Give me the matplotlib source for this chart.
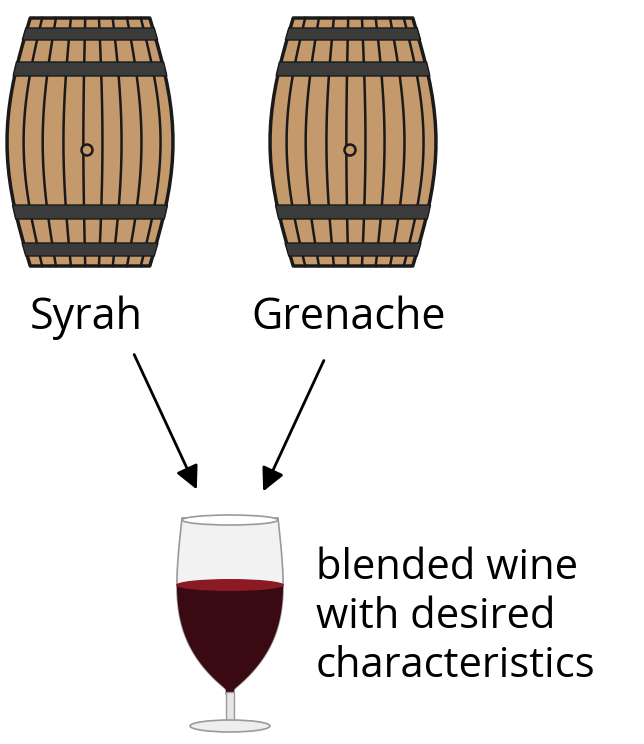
import numpy as np
import matplotlib.pyplot as plt
from matplotlib.patches import Polygon, Circle, Ellipse, FancyArrowPatch

barrel_names = ["Syrah", "Grenache"]
barrel_centers = [90, 353]
result_text = "blended wine\nwith desired\ncharacteristics"

W, H = 644, 744
fig = plt.figure(figsize=(W / 100, H / 100), dpi=100)
ax = fig.add_axes([0, 0, 1, 1])
ax.set_xlim(0, W)
ax.set_ylim(H, 0)
ax.axis("off")

top, bot = 18, 266
hw = 83


def half_width(y):
    t = (y - top) / (bot - top)
    return hw * (0.72 + 0.28 * np.sin(np.pi * t))


def band(cx, y0, y1, pad=0.0):
    ys = np.linspace(y0, y1, 20)
    left = [(cx - half_width(y) - pad, y) for y in ys]
    right = [(cx + half_width(y) + pad, y) for y in ys[::-1]]
    return left + right


for cx, name in zip(barrel_centers, barrel_names):
    ax.add_patch(Polygon(band(cx, top, bot), closed=True, fc="#C49A6C", ec="#1a1a1a", lw=2.5,
                         joinstyle="round", zorder=1))
    ys = np.linspace(top, bot, 50)
    for f in [-0.8, -0.57, -0.32, -0.08, 0.15, 0.38, 0.62, 0.85]:
        ax.plot(cx + f * half_width(ys), ys, color="#1a1a1a", lw=1.8, zorder=2)
    for y0, y1 in [(28, 40), (62, 76), (205, 219), (243, 256)]:
        ax.add_patch(Polygon(band(cx, y0, y1, 1.5), closed=True, fc="#3b3b3b", ec="#1a1a1a", lw=1, zorder=3))
    ax.add_patch(Circle((cx - 3, 150), 5.5, fc="#C49A6C", ec="#1a1a1a", lw=1.8, zorder=4))
    ax.text(cx - 4, 318, name, ha="center", va="center", fontsize=31, family="Open Sans", weight="medium")

for (x0, y0), (x1, y1) in [((133, 352), (198, 492)), ((325, 358), (262, 494))]:
    ax.add_patch(FancyArrowPatch((x0, y0), (x1, y1), arrowstyle="-|>,head_length=14,head_width=7",
                                 color="black", lw=2, mutation_scale=1))

# wine glass
ys = np.linspace(518, 694, 80)
t = (ys - 518) / (694 - 518)
gw = 48 + 8 * np.sin(np.pi * t * 0.75) - 56 * t ** 4
gw = np.maximum(gw, 4)
gc = 230
ax.add_patch(Polygon(list(zip(gc - gw, ys)) + list(zip(gc + gw[::-1], ys[::-1])), closed=True,
                     fc="#f2f2f2", ec="#9a9a9a", lw=1.2, zorder=1))
mask = ys >= 583
ax.add_patch(Polygon(list(zip(gc - gw[mask], ys[mask])) + list(zip(gc + gw[mask][::-1], ys[mask][::-1])),
                     closed=True, fc="#3a0a12", ec="none", zorder=2))
ax.add_patch(Ellipse((gc, 585), 2 * 54, 12, fc="#8b1a24", ec="none", zorder=3))
ax.add_patch(Ellipse((gc, 520), 2 * 48, 10, fc="white", ec="#9a9a9a", lw=1.2, zorder=3))
ax.add_patch(Polygon([(gc - 4, 692), (gc + 4, 692), (gc + 4, 722), (gc - 4, 722)], fc="#e6e6e6",
                     ec="#9a9a9a", lw=1, zorder=2))
ax.add_patch(Ellipse((gc, 726), 80, 12, fc="#eeeeee", ec="#9a9a9a", lw=1.2, zorder=2))

ax.text(316, 617, result_text, ha="left", va="center", fontsize=30, family="Open Sans", weight="medium",
        linespacing=1.22)

fig.savefig("out.png", dpi=100)
